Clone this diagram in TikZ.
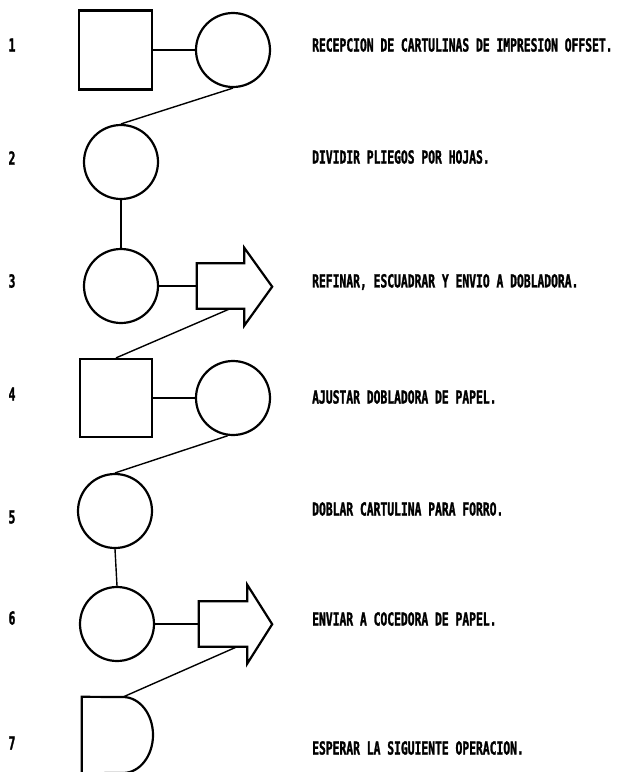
\documentclass[tikz,border=0pt]{standalone}
\usepackage{fontspec}
\newfontfamily\lblfont{DejaVu Sans Mono}[FakeStretch=0.63,FakeBold=1.5]
\begin{document}
\begin{tikzpicture}[x=1pt,y=-1pt,
  shp/.style={draw, line width=2.2pt, line join=miter},
  circ/.style={shp, circle, minimum size=74pt, inner sep=0pt},
  sq/.style={shp, rectangle, minimum width=72pt, minimum height=78pt, inner sep=0pt},
  body/.style={rectangle, minimum width=47pt, minimum height=45pt, inner sep=0pt},
  link/.style={line width=1.4pt},
  lbl/.style={font=\lblfont\bfseries\fontsize{18}{18}\selectfont, inner sep=0pt, anchor=west},
  num/.style={font=\lblfont\bfseries\fontsize{18}{18}\selectfont, inner sep=0pt}]
\useasboundingbox (0,0) rectangle (617,772);

% step numbers
\node[num] (n1) at (12,45) {1};
\node[num] (n2) at (12,158) {2};
\node[num] (n3) at (12,281) {3};
\node[num] (n4) at (12,394) {4};
\node[num] (n5) at (12,517) {5};
\node[num] (n6) at (12,618) {6};
\node[num] (n7) at (12,743) {7};

% symbols
\node[sq, minimum width=73pt, minimum height=79pt] (s1) at (115.5,50) {};
\node[circ] (c1) at (233,50) {};
\node[circ] (c2) at (121,162) {};
\node[circ] (c3) at (121,286) {};
\node[body] (a3) at (220.5,286) {};
\draw[shp] (a3.north east) -- (a3.north west) -- (a3.south west) -- (a3.south east)
  -- ++(0,17) -- ++(28,-39) -- ++(-28,-39) -- cycle;
\node[sq] (s4) at (116,398) {};
\node[circ] (c4) at (233,398) {};
\node[circ] (c5) at (115,511) {};
\node[circ] (c6) at (117,624) {};
\node[body, minimum width=48pt] (a6) at (223,624) {};
\draw[shp] (a6.north east) -- (a6.north west) -- (a6.south west) -- (a6.south east)
  -- ++(0,17) -- ++(25,-39.5) -- ++(-25,-39.5) -- cycle;
\node[rectangle, minimum width=71pt, minimum height=76pt, inner sep=0pt] (d7) at (117.5,735) {};
\coordinate (d7t) at (123,697);
\draw[shp] (d7.north west) -- (d7t) arc[start angle=-90, end angle=90, x radius=30, y radius=38]
  -- (d7.south west) -- cycle;

% connectors
\draw[link] (s1.east) -- (c1.west);
\draw[link] (c1.south) -- (c2.north);
\draw[link] (c2.south) -- (c3.north);
\draw[link] (c3.east) -- (a3.west);
\draw[link] (a3.-67) -- (s4.north);
\draw[link] (s4.east) -- (c4.west);
\draw[link] (c4.-98) -- (c5.north);
\draw[link] (c5.south) -- (c6.north);
\draw[link] (c6.east) -- (a6.west);
\draw[link] (a6.-58) -- (d7t);

% texts
\node[lbl] (t1) at (312,45) {RECEPCION DE CARTULINAS DE IMPRESION OFFSET.};
\node[lbl] (t2) at (312,157) {DIVIDIR PLIEGOS POR HOJAS.};
\node[lbl] (t3) at (312,282) {REFINAR, ESCUADRAR Y ENVIO A DOBLADORA.};
\node[lbl] (t4) at (312,397) {AJUSTAR DOBLADORA DE PAPEL.};
\node[lbl] (t5) at (312,509) {DOBLAR CARTULINA PARA FORRO.};
\node[lbl] (t6) at (312,619) {ENVIAR A COCEDORA DE PAPEL.};
\node[lbl] (t7) at (312,748) {ESPERAR LA SIGUIENTE OPERACION.};
\end{tikzpicture}
\end{document}
